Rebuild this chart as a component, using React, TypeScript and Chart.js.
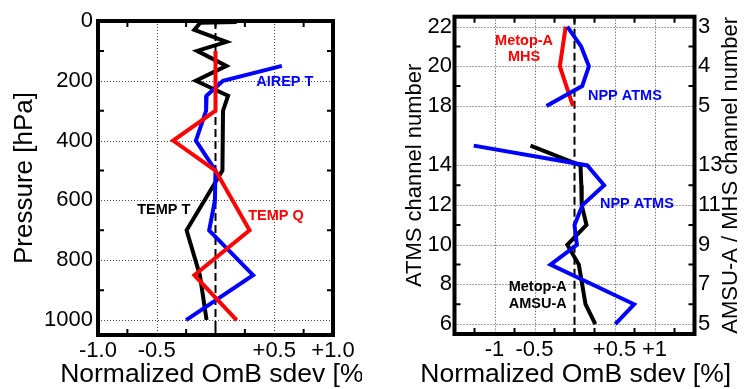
import React, { useEffect, useRef } from "react";
import { Chart, registerables } from "chart.js";

Chart.register(...registerables);

// ---------------- Left panel data (pressure profiles) ----------------
const tempTPressure = [3, 6, 30, 70, 100, 150, 200, 250, 300, 500, 700, 850, 1000];
const tempTValues = [0.18, -0.13, -0.18, 0.093, -0.156, 0.093, -0.167, 0.107, 0.064, 0.059, -0.246, -0.133, -0.076];

const airepTPressure = [150, 200, 250, 300, 400, 500, 600, 700, 850, 1000];
const airepTValues = [0.565, 0.064, -0.076, -0.08, -0.167, 0.0, -0.005, -0.054, 0.32, -0.25];

const tempQPressure = [100, 300, 400, 500, 700, 850, 1000];
const tempQValues = [0, 0, -0.36, 0, 0.29, -0.18, 0.18];

const leftXTicks = [-1, -0.5, 0.5, 1];
const leftXTickLabels = ["-1.0", "-0.5", "+0.5", "+1.0"];
const leftYTicks = [0, 200, 400, 600, 800, 1000];
const leftXGrid = [-0.5, 0.5];
const leftYGrid = [200, 400, 600, 800, 1000];
const leftXMinor = [-0.75, -0.25, 0, 0.25, 0.75];
const leftYMinor = [100, 300, 500, 700, 900];

// ---------------- Right panel data (channels) ----------------
const nppUpperChannels = [22, 21, 20, 19, 18];
const nppUpperValues = [-0.09, 0.083, 0.18, 0.096, -0.35];

const nppLowerChannels = [15, 14, 13, 12, 11, 10, 9, 7, 6];
const nppLowerValues = [-1.26, 0.16, 0.37, 0.1, 0.0, 0.03, -0.3, 0.745, 0.51];

// MHS channels 3,4,5 are plotted at ATMS rows 22,20,18
const mhsRows = [22, 20, 18];
const mhsValues = [-0.11, -0.183, -0.02];

// AMSU-A channels 14..5 are plotted at ATMS rows 15..6
const amsuRows = [15, 14, 13, 12, 11, 10, 9, 8, 7, 6];
const amsuValues = [-0.55, 0.075, 0.085, 0.09, 0.15, -0.09, 0.054, 0.096, 0.1375, 0.26];

const atmsTickChannels = [6, 8, 10, 12, 14, 18, 20, 22];
const atmsTickLabels = ["6", "8", "10", "12", "14", "18", "20", "22"];
const amsuMhsTickLabels = ["5", "7", "9", "11", "13", "5", "4", "3"];
const atmsMinorChannels = [7, 9, 11, 13, 19, 21];

const rightXTicks = [-1, -0.5, 0.5, 1];
const rightXTickLabels = ["-1", "-0.5", "+0.5", "+1"];
const rightXGrid = [-1, -0.5, 0.5, 1];
const rightXMinor = [-1.25, -0.75, -0.25, 0, 0.25, 0.75, 1.25];

// broken channel axis: channel 17 is skipped
const row = (ch: number) => (ch >= 17 ? ch - 1 : ch);

const FONT = "'Liberation Sans', Arial, Helvetica, sans-serif";
const RED = "#ff0000";
const BLUE = "#0000ff";
const BLACK = "#000000";

type Ann = { lines: string[]; x: number; y: number; color: string };
type Title = { text: string; x: number; y: number; rot: boolean; size: number };

function makeDecor(cfg: {
  xGrid: number[];
  yGrid: number[];
  xMinor: number[];
  yMinor: number[];
  anns: Ann[];
  titles: (a: any, w: number, h: number) => Title[];
}) {
  return {
    id: "decor",
    beforeDatasetsDraw(chart: any) {
      const { ctx, chartArea: a } = chart;
      const xs = chart.scales.x;
      const ys = chart.scales.y;
      ctx.save();
      ctx.strokeStyle = "#444";
      ctx.lineWidth = 1;
      ctx.setLineDash([1, 2]);
      ctx.beginPath();
      for (const v of cfg.xGrid) {
        const p = Math.round(xs.getPixelForValue(v)) + 0.5;
        ctx.moveTo(p, a.top);
        ctx.lineTo(p, a.bottom);
      }
      for (const v of cfg.yGrid) {
        const p = Math.round(ys.getPixelForValue(v)) + 0.5;
        ctx.moveTo(a.left, p);
        ctx.lineTo(a.right, p);
      }
      ctx.stroke();
      ctx.setLineDash([8, 4]);
      ctx.lineWidth = 2;
      ctx.strokeStyle = BLACK;
      const z = xs.getPixelForValue(0);
      ctx.beginPath();
      ctx.moveTo(z, a.top);
      ctx.lineTo(z, a.bottom);
      ctx.stroke();
      ctx.restore();
    },
    afterDatasetsDraw(chart: any) {
      const { ctx, chartArea: a } = chart;
      const xs = chart.scales.x;
      const ys = chart.scales.y;
      ctx.save();
      ctx.strokeStyle = BLACK;
      ctx.lineWidth = 2;
      ctx.beginPath();
      for (const v of cfg.xMinor) {
        const p = xs.getPixelForValue(v);
        ctx.moveTo(p, a.top);
        ctx.lineTo(p, a.top + 6);
        ctx.moveTo(p, a.bottom);
        ctx.lineTo(p, a.bottom - 6);
      }
      for (const v of cfg.yMinor) {
        const p = ys.getPixelForValue(v);
        ctx.moveTo(a.left, p);
        ctx.lineTo(a.left + 6, p);
        ctx.moveTo(a.right, p);
        ctx.lineTo(a.right - 6, p);
      }
      ctx.stroke();
      ctx.lineWidth = 4;
      ctx.strokeRect(a.left, a.top, a.right - a.left, a.bottom - a.top);

      ctx.font = `bold 14.5px ${FONT}`;
      ctx.textAlign = "center";
      ctx.textBaseline = "middle";
      for (const an of cfg.anns) {
        const cx = xs.getPixelForValue(an.x);
        const cy = ys.getPixelForValue(an.y);
        ctx.fillStyle = an.color;
        const n = an.lines.length;
        an.lines.forEach((t, i) => {
          ctx.fillText(t, cx, cy + (i - (n - 1) / 2) * 16.5);
        });
      }

      ctx.fillStyle = BLACK;
      ctx.textBaseline = "alphabetic";
      ctx.textAlign = "center";
      for (const t of cfg.titles(a, chart.width, chart.height)) {
        ctx.save();
        ctx.font = `${t.size}px ${FONT}`;
        ctx.translate(t.x, t.y);
        if (t.rot) ctx.rotate(-Math.PI / 2);
        ctx.fillText(t.text, 0, 0);
        ctx.restore();
      }
      ctx.restore();
    },
  };
}

const tickFont = { family: FONT, size: 22 };

function leftConfig(): any {
  const pts = (ps: number[], vs: number[]) => ps.map((p, i) => ({ x: vs[i], y: p }));
  const ds = (label: string, data: any[], color: string) => ({
    label,
    data,
    borderColor: color,
    backgroundColor: color,
    borderWidth: 4,
    showLine: true,
    pointRadius: 0,
    fill: false,
    tension: 0,
  });
  return {
    type: "scatter",
    data: {
      datasets: [
        ds("TEMP Q", pts(tempQPressure, tempQValues), RED),
        ds("AIREP T", pts(airepTPressure, airepTValues), BLUE),
        ds("TEMP T", pts(tempTPressure, tempTValues), BLACK),
      ],
    },
    options: {
      animation: false,
      responsive: false,
      events: [],
      layout: { padding: { left: 0, top: 21, right: 29, bottom: 0 } },
      plugins: { legend: { display: false }, tooltip: { enabled: false } },
      scales: {
        x: {
          type: "linear",
          min: -1,
          max: 1,
          afterBuildTicks: (s: any) => {
            s.ticks = leftXTicks.map((v) => ({ value: v }));
          },
          afterFit: (s: any) => {
            s.height = 54;
          },
          grid: { display: false, drawTicks: false },
          border: { display: false },
          ticks: {
            autoSkip: false,
            maxRotation: 0,
            padding: 2.5,
            color: BLACK,
            font: tickFont,
            callback: (_v: any, i: number) => leftXTickLabels[i],
          },
        },
        y: {
          type: "linear",
          reverse: true,
          min: 0,
          max: 1050,
          afterBuildTicks: (s: any) => {
            s.ticks = leftYTicks.map((v) => ({ value: v }));
          },
          afterFit: (s: any) => {
            s.width = 98;
          },
          grid: { display: false, drawTicks: false },
          border: { display: false },
          ticks: {
            autoSkip: false,
            padding: 5,
            color: BLACK,
            font: tickFont,
            callback: (v: any) => String(v),
          },
        },
      },
    },
    plugins: [
      makeDecor({
        xGrid: leftXGrid,
        yGrid: leftYGrid,
        xMinor: leftXMinor,
        yMinor: leftYMinor,
        anns: [
          { lines: ["AIREP T"], x: 0.59, y: 204, color: BLUE },
          { lines: ["TEMP T"], x: -0.44, y: 633, color: BLACK },
          { lines: ["TEMP Q"], x: 0.515, y: 653, color: RED },
        ],
        titles: (a, w, h) => [
          { text: "Pressure [hPa]", x: 31.5, y: (a.top + a.bottom) / 2, rot: true, size: 26 },
          { text: "Normalized OmB sdev [%]", x: (a.left + a.right) / 2, y: h - 7, rot: false, size: 26.5 },
        ],
      }),
    ],
  };
}

function rightConfig(): any {
  const pts = (chs: number[], vs: number[]) => chs.map((c, i) => ({ x: vs[i], y: row(c) }));
  const ds = (label: string, data: any[], color: string) => ({
    label,
    data,
    borderColor: color,
    backgroundColor: color,
    borderWidth: 4,
    showLine: true,
    pointRadius: 0,
    fill: false,
    tension: 0,
  });
  const yTicks = atmsTickChannels.map((c) => ({ value: row(c) }));
  return {
    type: "scatter",
    data: {
      datasets: [
        ds("NPP ATMS upper", pts(nppUpperChannels, nppUpperValues), BLUE),
        ds("NPP ATMS lower", pts(nppLowerChannels, nppLowerValues), BLUE),
        ds("Metop-A MHS", pts(mhsRows, mhsValues), RED),
        ds("Metop-A AMSU-A", pts(amsuRows, amsuValues), BLACK),
      ],
    },
    options: {
      animation: false,
      responsive: false,
      events: [],
      layout: { padding: { left: 0, top: 14.5, right: 0, bottom: 0 } },
      plugins: { legend: { display: false }, tooltip: { enabled: false } },
      scales: {
        x: {
          type: "linear",
          min: -1.5,
          max: 1.5,
          afterBuildTicks: (s: any) => {
            s.ticks = rightXTicks.map((v) => ({ value: v }));
          },
          afterFit: (s: any) => {
            s.height = 55;
          },
          grid: { display: false, drawTicks: false },
          border: { display: false },
          ticks: {
            autoSkip: false,
            maxRotation: 0,
            padding: 2.5,
            color: BLACK,
            font: tickFont,
            callback: (_v: any, i: number) => rightXTickLabels[i],
          },
        },
        y: {
          type: "linear",
          position: "left",
          min: 5.5,
          max: 21.5,
          afterBuildTicks: (s: any) => {
            s.ticks = yTicks.map((t) => ({ ...t }));
          },
          afterFit: (s: any) => {
            s.width = 92.5;
          },
          grid: { display: false, drawTicks: false },
          border: { display: false },
          ticks: {
            autoSkip: false,
            padding: 2.5,
            color: BLACK,
            font: tickFont,
            callback: (_v: any, i: number) => atmsTickLabels[i],
          },
        },
        y2: {
          type: "linear",
          position: "right",
          min: 5.5,
          max: 21.5,
          afterBuildTicks: (s: any) => {
            s.ticks = yTicks.map((t) => ({ ...t }));
          },
          afterFit: (s: any) => {
            s.width = 53.5;
          },
          grid: { display: false, drawTicks: false },
          border: { display: false },
          ticks: {
            autoSkip: false,
            padding: 3.5,
            color: BLACK,
            font: tickFont,
            callback: (_v: any, i: number) => amsuMhsTickLabels[i],
          },
        },
      },
    },
    plugins: [
      makeDecor({
        xGrid: rightXGrid,
        yGrid: atmsTickChannels.map(row),
        xMinor: rightXMinor,
        yMinor: atmsMinorChannels.map(row),
        anns: [
          { lines: ["Metop-A", "MHS"], x: -0.63, y: 19.87, color: RED },
          { lines: ["NPP ATMS"], x: 0.63, y: 17.5, color: BLUE },
          { lines: ["NPP ATMS"], x: 0.78, y: 12.04, color: BLUE },
          { lines: ["Metop-A", "AMSU-A"], x: -0.46, y: 7.45, color: BLACK },
        ],
        titles: (a, w, h) => [
          { text: "ATMS channel number", x: 421 - 362, y: (a.top + a.bottom) / 2, rot: true, size: 22 },
          { text: "AMSU-A / MHS channel number", x: 736.5 - 362, y: (a.top + a.bottom) / 2, rot: true, size: 22 },
          { text: "Normalized OmB sdev [%]", x: 575.7 - 362, y: h - 7, rot: false, size: 26.5 },
        ],
      }),
    ],
  };
}

export default function App() {
  const leftRef = useRef<HTMLCanvasElement | null>(null);
  const rightRef = useRef<HTMLCanvasElement | null>(null);

  useEffect(() => {
    const c1 = new Chart(leftRef.current as HTMLCanvasElement, leftConfig());
    const c2 = new Chart(rightRef.current as HTMLCanvasElement, rightConfig());
    return () => {
      c1.destroy();
      c2.destroy();
    };
  }, []);

  return (
    <div
      style={{
        position: "fixed",
        left: 0,
        top: 0,
        width: 748,
        height: 389,
        background: "#fff",
        overflow: "hidden",
      }}
    >
      <canvas
        ref={leftRef}
        width={362}
        height={389}
        style={{ position: "absolute", left: 0, top: 0, width: 362, height: 389 }}
      />
      <canvas
        ref={rightRef}
        width={386}
        height={389}
        style={{ position: "absolute", left: 362, top: 0, width: 386, height: 389 }}
      />
    </div>
  );
}
